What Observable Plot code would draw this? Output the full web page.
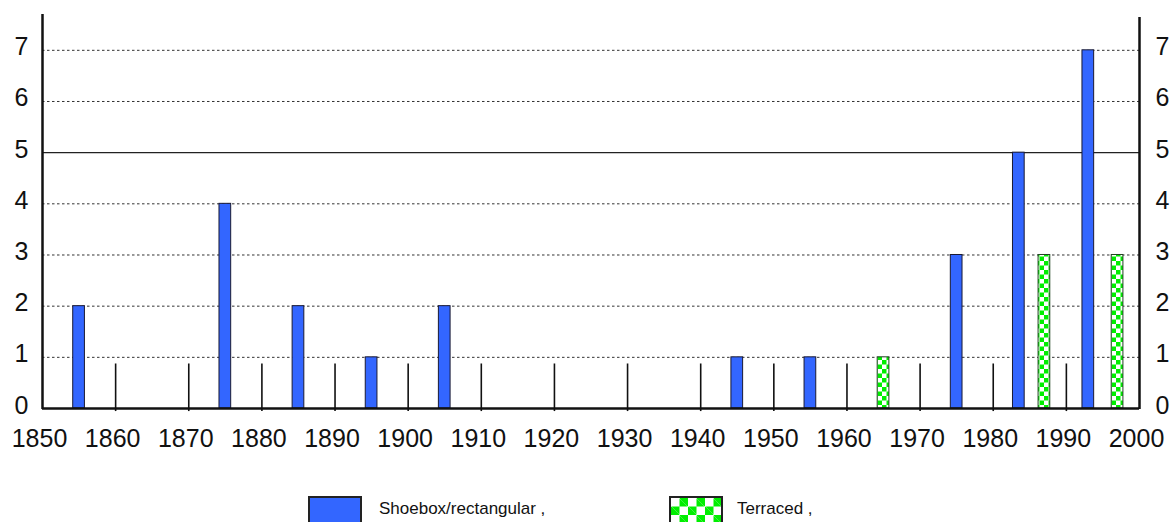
<!DOCTYPE html>
<html>
<head>
<meta charset="utf-8">
<script src="https://cdn.jsdelivr.net/npm/d3@7"></script>
<script src="https://cdn.jsdelivr.net/npm/@observablehq/plot@0.6"></script>
<style>
  html, body { margin: 0; padding: 0; background: #fff; }
  #wrap { position: relative; width: 1175px; height: 522px; overflow: hidden; font-family: "Liberation Sans", Arial, Helvetica, sans-serif; }
  #chart { position: absolute; left: 0; top: 0; }
  .lg-swatch { position: absolute; box-sizing: border-box; width: 54px; height: 30px; border: 2px solid #222; }
  .lg-text { position: absolute; font-size: 17px; color: #111; white-space: nowrap; }
</style>
</head>
<body>
<div id="wrap">
  <div id="chart"></div>
</div>
<script>
// ---- data ----
const seriesNames = ["Shoebox/rectangular ,", "Terraced ,"];
const shoeboxYears  = [1855, 1875, 1885, 1895, 1905, 1945, 1955, 1975, 1983.5, 1993];
const shoeboxCounts = [2,    4,    2,    1,    2,    1,    1,    3,    5,      7];
const terracedYears  = [1965, 1987, 1997];
const terracedCounts = [1,    3,    3];
const decadeTicks = [1860, 1870, 1880, 1890, 1900, 1910, 1920, 1930, 1940, 1950, 1960, 1970, 1980, 1990];
const xTickLabels = [1850, 1860, 1870, 1880, 1890, 1900, 1910, 1920, 1930, 1940, 1950, 1960, 1970, 1980, 1990, 2000];
const yTickLabels = [0, 1, 2, 3, 4, 5, 6, 7];
const dashedGrid = [1, 2, 3, 4, 6, 7];
const solidGrid = [5];

const shoebox = shoeboxYears.map((y, i) => ({year: y, count: shoeboxCounts[i]}));
const terraced = terracedYears.map((y, i) => ({year: y, count: terracedCounts[i]}));
const halfW = 0.8;

const font = "Liberation Sans, Arial, Helvetica, sans-serif";

const chart = Plot.plot({
  width: 1175,
  height: 470,
  marginLeft: 42,
  marginRight: 36,
  marginTop: 14,
  marginBottom: 62,
  style: {fontFamily: font, background: "#fff", overflow: "visible"},
  x: {domain: [1850, 2000], axis: null},
  y: {domain: [0, 7.7], axis: null},
  marks: [
    Plot.ruleY(dashedGrid, {stroke: "#333", strokeWidth: 1, strokeDasharray: "2.5,2.5"}),
    Plot.ruleY(solidGrid, {stroke: "#222", strokeWidth: 1.2}),
    Plot.ruleX(decadeTicks, {y1: -0.06, y2: 0.87, stroke: "#111", strokeWidth: 1.6}),
    Plot.rectY(shoebox, {x1: d => d.year - halfW, x2: d => d.year + halfW, y1: 0, y2: "count", fill: "#3366ff", stroke: "#1a1a33", strokeWidth: 1}),
    Plot.rectY(terraced, {x1: d => d.year - halfW, x2: d => d.year + halfW, y1: 0, y2: "count", fill: "url(#checkBar)", stroke: "#224422", strokeWidth: 1}),
    Plot.ruleY([0], {stroke: "#111", strokeWidth: 2.5}),
    Plot.ruleX([1850], {y1: -0.02, y2: 7.7, stroke: "#111", strokeWidth: 2.5}),
    Plot.ruleX([2000], {y1: -0.02, y2: 7.64, stroke: "#111", strokeWidth: 2.5}),
    Plot.axisX({ticks: xTickLabels, tickFormat: d => String(d), tickSize: 0, tickPadding: 21, fontSize: 25, dx: -3, fill: "#111", label: null}),
    Plot.axisY({anchor: "left", ticks: yTickLabels, tickSize: 0, tickPadding: 14, fontSize: 25, dy: -3, fill: "#111", label: null}),
    Plot.axisY({anchor: "right", ticks: yTickLabels, tickSize: 0, tickPadding: 16, fontSize: 25, dy: -3, fill: "#111", label: null})
  ]
});

// checker pattern for the terraced bars
const svg = d3.select(chart);
const defs = svg.insert("defs", ":first-child");
function addChecker(id, s) {
  const p = defs.append("pattern").attr("id", id).attr("patternUnits", "userSpaceOnUse")
    .attr("width", 2 * s).attr("height", 2 * s);
  p.append("rect").attr("width", 2 * s).attr("height", 2 * s).attr("fill", "#ffffff");
  p.append("rect").attr("width", s).attr("height", s).attr("fill", "#00ee00");
  p.append("rect").attr("x", s).attr("y", s).attr("width", s).attr("height", s).attr("fill", "#00ee00");
}
addChecker("checkBar", 4.5);

document.getElementById("chart").appendChild(chart);

// legend below the SVG
const wrap = document.getElementById("wrap");
const legendItems = [
  {name: seriesNames[0], left: 308, textLeft: 379, bg: "#3366ff"},
  {name: seriesNames[1], left: 669, textLeft: 737, bg: "checker"}
];
legendItems.forEach(it => {
  const sw = document.createElement("div");
  sw.className = "lg-swatch";
  sw.style.left = it.left + "px";
  sw.style.top = "496px";
  if (it.bg === "checker") {
    sw.style.backgroundColor = "#fff";
    sw.style.backgroundImage = "linear-gradient(45deg, #00ee00 25%, transparent 25%, transparent 75%, #00ee00 75%), linear-gradient(45deg, #00ee00 25%, transparent 25%, transparent 75%, #00ee00 75%)";
    sw.style.backgroundSize = "17px 17px";
    sw.style.backgroundPosition = "0 0, 8.5px 8.5px";
  } else {
    sw.style.background = it.bg;
  }
  wrap.appendChild(sw);
  const tx = document.createElement("div");
  tx.className = "lg-text";
  tx.style.left = it.textLeft + "px";
  tx.style.top = "499px";
  tx.textContent = it.name;
  wrap.appendChild(tx);
});
</script>
</body>
</html>
